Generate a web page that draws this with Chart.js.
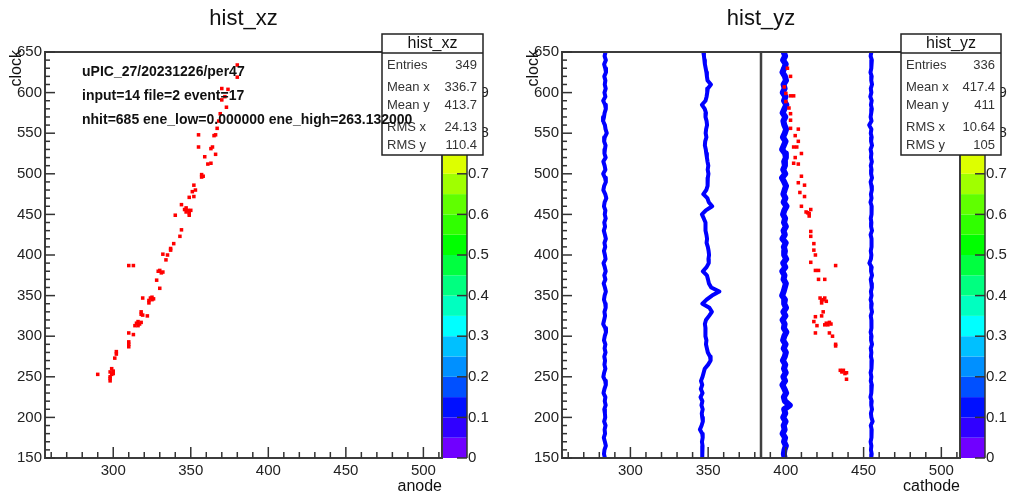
<!DOCTYPE html>
<html>
<head>
<meta charset="utf-8">
<script src="https://cdn.jsdelivr.net/npm/chart.js@4.4.1/dist/chart.umd.min.js"></script>
<style>
  body { margin: 0; background: #fff; }
  #wrap { position: relative; width: 1011px; height: 498px; }
  canvas { position: absolute; top: 0; }
</style>
</head>
<body>
<div id="wrap">
  <canvas id="xz" width="505" height="498" style="left:0"></canvas>
  <canvas id="yz" width="506" height="498" style="left:505px"></canvas>
</div>
<script>
// hits of the event, [anode/cathode, clock]
const xzHits = [
  [380,634],[380,619],[370,605],[374,604],[372,595],[370,591],[373,582],[369,574],[368,565],[367,556],
  [366,548],[355,548],[365,547],[364,533],[363,531],[355,533],[359,521],[366,524],[363,513],[361,512],
  [357,499],[357,496],[358,497],[352,486],[351,478],[353,480],[349,471],[352,472],[344,462],[347,458],
  [346,456],[348,455],[350,455],[347,453],[349,452],[349,449],[340,449],[344,431],[343,423],[339,414],
  [337,408],[337,406],[332,401],[335,400],[334,394],[310,387],[313,387],[330,381],[331,378],[329,380],
  [332,379],[328,369],[330,359],[324,347],[325,345],[323,344],[326,346],[325,348],[319,347],[323,341],
  [318,330],[318,327],[319,326],[322,325],[315,316],[317,315],[316,318],[314,313],[318,317],[316,313],
  [313,302],[310,304],[310,293],[310,290],[310,287],[302,281],[302,278],[301,273],[299,260],[298,256],
  [300,254],[300,257],[299,253],[290,253],[298,250],[298,245],[298,248]
];
const yzHits = [
  [401,630],[403,620],[399,607],[400,599],[403,596],[405,596],[400,589],[402,581],[403,574],[403,566],
  [403,556],[408,555],[406,547],[408,540],[405,533],[407,533],[410,525],[406,520],[405,513],[408,512],
  [410,497],[408,489],[412,486],[409,477],[412,472],[410,460],[413,453],[415,451],[416,456],[415,448],
  [414,452],[416,429],[416,423],[418,414],[418,406],[419,400],[416,391],[432,387],[419,381],[421,381],
  [421,370],[425,370],[422,347],[424,345],[426,343],[423,341],[425,347],[423,344],[424,330],[423,325],
  [419,324],[426,316],[429,315],[425,314],[428,317],[427,314],[418,318],[420,313],[428,304],[419,304],
  [430,300],[432,290],[432,288],[435,258],[437,258],[438,254],[436,256],[439,247],[439,255]
];

// noisy strip lines in the cathode view, sampled along the clock axis
const clockSamples = [
  650,645,640,635,630,625,620,615,610,605, 600,595,590,585,580,575,570,565,560,555,
  550,545,540,535,530,525,520,515,510,505, 500,495,490,485,480,475,470,465,460,455,
  450,445,440,435,430,425,420,415,410,405, 400,395,390,385,380,375,370,365,360,355,
  350,345,340,335,330,325,320,315,310,305, 300,295,290,285,280,275,270,265,260,255,
  250,245,240,235,230,225,220,215,210,205, 200,195,190,185,180,175,170,165,160,155,
  150
];
const strip283 = [
  284.0,283.4,284.2,283.1,283.8,284.3,283.2,283.9,283.5,284.1, 283.3,283.9,282.5,283.7,284.2,283.4,283.0,282.4,283.6,284.0,
  284.8,283.5,283.1,284.0,283.6,283.3,284.1,282.6,283.4,283.9, 282.5,283.7,284.2,283.1,282.6,283.8,284.5,283.4,283.0,283.9,
  283.5,284.1,283.2,283.7,282.9,283.6,284.2,283.3,283.8,283.0, 283.6,284.0,282.7,283.5,284.1,283.2,283.9,282.8,283.6,284.2,
  283.4,283.0,283.8,284.1,283.3,283.7,283.1,282.5,283.8,284.3, 283.5,283.0,283.9,283.4,284.0,283.2,283.7,283.3,283.9,283.1,
  282.6,283.8,284.2,283.3,282.7,283.9,283.5,284.1,283.2,283.6, 283.8,283.1,284.0,283.4,283.7,282.9,283.6,284.2,283.3,283.0,
  283.6
];
const strip347 = [
  346.9,347.3,347.6,347.9,348.4,348.9,349.2,349.6,351.8,349.8, 349.4,349.0,348.3,346.0,347.8,348.6,348.3,349.0,349.3,348.7,
  348.4,348.9,348.1,347.9,348.5,348.8,349.2,349.6,350.1,349.7, 350.2,349.8,349.4,349.9,348.8,346.9,349.5,350.4,352.6,348.5,
  346.0,347.2,348.3,348.0,348.6,348.9,349.3,349.0,349.8,350.3, 350.6,350.2,350.4,349.0,346.6,349.2,349.9,350.5,352.0,357.2,
  352.5,349.0,346.3,350.8,352.4,350.6,348.6,347.9,348.3,348.0, 348.5,348.9,348.6,349.2,349.8,351.2,351.6,350.0,347.8,347.1,
  346.4,345.4,346.2,345.3,346.4,345.1,346.3,345.7,346.5,345.9, 346.2,346.6,345.8,344.7,346.2,346.5,346.0,346.4,346.1,346.3,
  346.2
];
const strip399 = [
  398.6,399.5,398.2,399.9,398.9,397.8,399.4,400.1,398.5,399.2, 398.0,399.7,398.8,400.3,399.1,397.9,399.6,398.4,399.0,400.2,
  399.3,398.1,399.8,398.7,397.6,399.5,400.0,398.9,399.4,398.3, 399.6,397.5,398.9,400.1,399.2,398.4,399.7,398.6,400.4,399.0,
  398.2,399.5,398.8,400.0,398.5,399.3,397.8,399.9,398.7,399.4, 398.9,400.2,398.3,399.6,397.7,399.1,398.5,400.0,399.3,398.6,
  397.6,399.4,398.9,400.1,398.4,399.7,397.9,399.2,398.7,400.3, 399.0,398.2,399.8,398.6,400.0,399.3,398.1,399.6,398.8,399.9,
  398.4,399.5,397.8,399.1,400.2,398.7,399.4,402.5,398.9,399.6, 398.3,399.8,398.6,399.2,397.9,399.5,398.8,400.0,399.1,398.7,
  399.2
];
const strip455 = [
  455.0,454.5,455.3,454.8,455.1,454.4,455.2,454.9,455.4,454.6, 455.0,454.3,455.2,454.7,455.3,454.9,454.5,455.1,453.6,455.0,
  454.6,455.2,454.8,455.4,454.5,455.0,454.7,455.3,454.6,455.1, 454.8,455.4,454.5,455.0,455.3,454.7,455.1,454.4,455.2,454.9,
  455.3,454.6,455.0,454.8,455.4,454.5,455.1,454.9,455.3,454.6, 455.0,454.7,453.7,455.2,454.8,455.4,454.6,455.0,455.3,454.7,
  455.1,454.5,455.2,454.9,455.4,454.6,455.0,454.8,455.3,454.5, 455.1,454.8,455.4,454.6,455.0,454.7,455.3,454.9,455.2,454.5,
  455.0,454.6,455.3,454.8,455.1,454.4,455.2,454.9,455.4,454.7, 455.0,455.8,454.6,455.2,454.8,455.3,454.5,455.0,454.7,455.2,
  454.9
];
const centreLine = 384;

const xzStats = [['Entries', '349'], ['Mean x', '336.7'], ['Mean y', '413.7'], ['RMS x', '24.13'], ['RMS y', '110.4']];
const yzStats = [['Entries', '336'], ['Mean x', '417.4'], ['Mean y', '411'], ['RMS x', '10.64'], ['RMS y', '105']];
const xzNotes = ['uPIC_27/20231226/per47', 'input=14 file=2 event=17', 'nhit=685 ene_low=0.000000 ene_high=263.132000'];

const xTickLabels = [300, 350, 400, 450, 500];
const yTickLabels = [150, 200, 250, 300, 350, 400, 450, 500, 550, 600, 650];
const zTickLabels = [0, 0.1, 0.2, 0.3, 0.4, 0.5, 0.6, 0.7, 0.8, 0.9, 1];

// colour palette, 20 contour levels from bottom to top
const palette = [
  '#7000ff', '#3000ff', '#0010ff', '#0050ff', '#0090ff', '#00c0ff', '#00ffff', '#00ffc0', '#00ff80', '#00ff40',
  '#00ff00', '#30ff00', '#60ff00', '#a0ff00', '#ddff00', '#ffff00', '#ffc000', '#ff8000', '#ff4000', '#ff0000'
];

Chart.defaults.font.family = '"Liberation Sans", Arial, Helvetica, sans-serif';
Chart.defaults.color = '#222';

const FONT = '"Liberation Sans", Arial, Helvetica, sans-serif';

function seg(ctx, x1, y1, x2, y2) {
  ctx.beginPath();
  ctx.moveTo(x1, y1);
  ctx.lineTo(x2, y2);
  ctx.stroke();
}

// frame, inner ticks, colour bar, titles and stat box
const rootFrame = {
  id: 'rootFrame',
  afterDraw(chart, args, o) {
    const { ctx, chartArea: a } = chart;
    const { x, y, z } = chart.scales;
    ctx.save();

    // colour bar
    const barW = 25;
    for (let i = 0; i < palette.length; i++) {
      const t = z.getPixelForValue((i + 1) / palette.length);
      const b = z.getPixelForValue(i / palette.length);
      ctx.fillStyle = palette[i];
      ctx.fillRect(a.right, t, barW, b - t);
    }
    ctx.strokeStyle = '#333';
    ctx.lineWidth = 1.5;
    seg(ctx, a.right + barW, a.top, a.right + barW, a.bottom);
    zTickLabels.forEach(v => {
      const py = z.getPixelForValue(v);
      seg(ctx, a.right + barW - 10, py, a.right + barW, py);
    });

    // frame
    ctx.strokeStyle = '#3c3c3c';
    ctx.lineWidth = 2;
    ctx.strokeRect(a.left, a.top, a.right - a.left, a.bottom - a.top);

    // ticks pointing into the frame
    ctx.lineWidth = 1.5;
    ctx.strokeStyle = '#333';
    for (let v = Math.ceil(x.min / 10) * 10; v <= x.max; v += 10) {
      const px = x.getPixelForValue(v);
      seg(ctx, px, a.bottom, px, a.bottom - (v % 50 === 0 ? 11 : 6));
    }
    for (let v = Math.ceil(y.min / 10) * 10; v <= y.max; v += 10) {
      const py = y.getPixelForValue(v);
      seg(ctx, a.left, py, a.left + (v % 50 === 0 ? 10 : 5), py);
    }

    // titles
    ctx.fillStyle = '#111';
    ctx.font = '22px ' + FONT;
    ctx.textAlign = 'center';
    ctx.textBaseline = 'middle';
    ctx.fillText(o.title, (a.left + a.right) / 2, 19);

    ctx.font = '16px ' + FONT;
    ctx.textAlign = 'right';
    ctx.fillText(o.xTitle, a.right, 487);

    ctx.save();
    ctx.translate(a.left - 28, 50);
    ctx.rotate(-Math.PI / 2);
    ctx.textAlign = 'right';
    ctx.fillText('clock', 0, 0);
    ctx.restore();

    // statistics box
    const sb = o.statBox;
    ctx.fillStyle = '#fff';
    ctx.fillRect(sb.left, 34, sb.right - sb.left, 121);
    ctx.strokeStyle = '#222';
    ctx.lineWidth = 1.5;
    ctx.strokeRect(sb.left, 34, sb.right - sb.left, 121);
    seg(ctx, sb.left, 53, sb.right, 53);
    ctx.fillStyle = '#111';
    ctx.font = '16px ' + FONT;
    ctx.textAlign = 'center';
    ctx.fillText(o.title, (sb.left + sb.right) / 2, 44);
    ctx.font = '13px ' + FONT;
    ctx.fillStyle = '#333';
    const rows = [65, 87, 105, 127, 145];
    o.stats.forEach(([k, v], i) => {
      ctx.textAlign = 'left';
      ctx.fillText(k, sb.left + 5, rows[i]);
      ctx.textAlign = 'right';
      ctx.fillText(v, sb.right - 6, rows[i]);
    });

    // run information
    ctx.fillStyle = '#111';
    ctx.font = 'bold 14px ' + FONT;
    ctx.textAlign = 'left';
    (o.notes || []).forEach((t, i) => ctx.fillText(t, 82, 72 + i * 24));

    ctx.restore();
  }
};

function panel(id, cfg) {
  const toPts = arr => arr.map(([vx, vy]) => ({ x: vx, y: vy }));
  const datasets = [{
    data: toPts(cfg.hits),
    pointStyle: 'rect',
    pointRadius: 2.5,
    backgroundColor: '#ff0000',
    borderWidth: 0
  }];
  (cfg.strips || []).forEach(s => datasets.push({
    data: clockSamples.map((c, i) => ({ x: s.values[i], y: c })),
    showLine: true,
    borderColor: '#0000ff',
    borderWidth: s.width,
    borderJoinStyle: 'round',
    pointRadius: 0,
    tension: 0
  }));
  if (cfg.centre) {
    datasets.push({
      data: [{ x: cfg.centre, y: 150 }, { x: cfg.centre, y: 650 }],
      showLine: true,
      borderColor: '#404040',
      borderWidth: 2.5,
      pointRadius: 0
    });
  }

  return new Chart(document.getElementById(id), {
    type: 'scatter',
    data: { datasets },
    plugins: [rootFrame],
    options: {
      responsive: false,
      animation: false,
      events: [],
      devicePixelRatio: 1,
      layout: { padding: { top: 52, left: 0, right: 0, bottom: 0 } },
      plugins: {
        legend: { display: false },
        tooltip: { enabled: false },
        rootFrame: { title: cfg.title, xTitle: cfg.xTitle, stats: cfg.stats, statBox: cfg.statBox, notes: cfg.notes }
      },
      scales: {
        x: {
          type: 'linear', position: 'bottom', min: 256, max: 512,
          grid: { display: false, drawTicks: false }, border: { display: false },
          afterBuildTicks: s => { s.ticks = xTickLabels.map(v => ({ value: v })); },
          afterFit: s => { s.height = 40; },
          ticks: { font: { size: 15 }, padding: 4, color: '#222', maxRotation: 0, autoSkip: false }
        },
        y: {
          type: 'linear', position: 'left', min: 150, max: 650,
          grid: { display: false, drawTicks: false }, border: { display: false },
          afterBuildTicks: s => { s.ticks = yTickLabels.map(v => ({ value: v })); },
          afterFit: s => { s.width = cfg.yWidth; },
          ticks: { font: { size: 15 }, padding: 3, color: '#222', autoSkip: false }
        },
        z: {
          type: 'linear', axis: 'y', position: 'right', min: 0, max: 1,
          grid: { display: false, drawTicks: false }, border: { display: false },
          afterBuildTicks: s => { s.ticks = zTickLabels.map(v => ({ value: v })); },
          afterFit: s => { s.width = cfg.zWidth; },
          ticks: {
            font: { size: 15 }, padding: 26, color: '#222', autoSkip: false,
            callback: v => String(Math.round(v * 10) / 10)
          }
        }
      }
    }
  });
}

panel('xz', {
  title: 'hist_xz', xTitle: 'anode', hits: xzHits, stats: xzStats, notes: xzNotes,
  statBox: { left: 382, right: 483 }, yWidth: 45, zWidth: 63
});

panel('yz', {
  title: 'hist_yz', xTitle: 'cathode', hits: yzHits, stats: yzStats,
  statBox: { left: 396, right: 496 }, yWidth: 57, zWidth: 51,
  centre: centreLine,
  strips: [
    { values: strip283, width: 4 },
    { values: strip347, width: 4 },
    { values: strip399, width: 6 },
    { values: strip455, width: 4 }
  ]
});
</script>
</body>
</html>
